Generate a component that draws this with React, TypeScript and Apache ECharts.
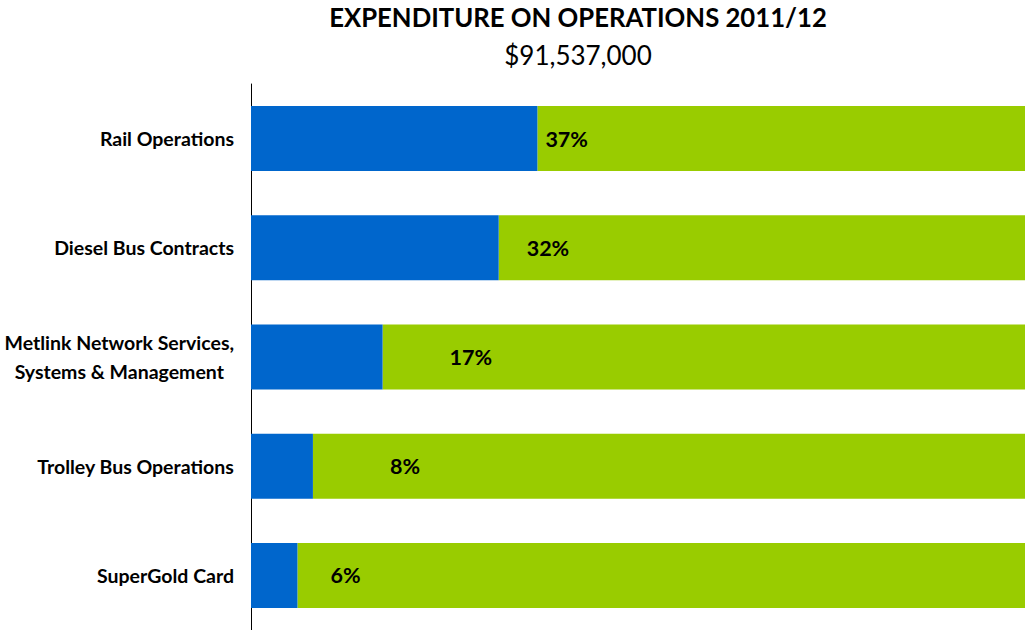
import React, { useEffect, useRef } from "react";
import * as echarts from "echarts";

const categories = [
  "Rail Operations",
  "Diesel Bus Contracts",
  "Metlink Network Services,\nSystems & Management",
  "Trolley Bus Operations",
  "SuperGold Card",
];
const shares = [37, 32, 17, 8, 6];
const remainder = shares.map((v) => 100 - v);
const labelNudge = [8, 28, 67, 77, 33];

const FONT = "Lato";

export default function App() {
  const ref = useRef<HTMLDivElement>(null);
  useEffect(() => {
    if (!ref.current) return;
    const chart = echarts.init(ref.current, null, { renderer: "svg" });
    chart.setOption({
      animation: false,
      backgroundColor: "#ffffff",
      title: {
        text: "EXPENDITURE ON OPERATIONS 2011/12",
        subtext: "$91,537,000",
        left: 573,
        textAlign: "center",
        top: -1,
        itemGap: 12,
        textStyle: { fontFamily: FONT, fontWeight: "bold", fontSize: 25.7, color: "#000" },
        subtextStyle: { fontFamily: FONT, fontSize: 26, color: "#000" },
      },
      grid: { left: 251, right: 0, top: 84, bottom: 0, containLabel: false },
      xAxis: { type: "value", min: 0, max: 100, show: false },
      yAxis: {
        type: "category",
        data: categories,
        inverse: true,
        axisLine: { show: true, lineStyle: { color: "#000", width: 1 } },
        axisTick: { show: false },
        splitLine: { show: false },
        axisLabel: {
          margin: 17,
          fontFamily: FONT,
          fontWeight: "bold",
          fontSize: 19.5,
          color: "#000",
          lineHeight: 29,
          formatter: (v: string) =>
            v
              .split("\n")
              .map((l) => `{c|${l}}`)
              .join("\n"),
          rich: {
            c: { align: "center", fontFamily: FONT, fontWeight: "bold", fontSize: 19.5, color: "#000", lineHeight: 29 },
          },
        },
      },
      series: [
        {
          type: "bar",
          stack: "a",
          barWidth: 65,
          itemStyle: { color: "#0066CC" },
          data: shares.map((v, i) => ({
            value: v,
            label: {
              show: true,
              position: "right",
              distance: 0,
              offset: [labelNudge[i], 0],
              formatter: "{c}%",
              fontFamily: FONT,
              fontWeight: "bold",
              fontSize: 21.5,
              color: "#000",
            },
          })),
          z: 3,
        },
        {
          type: "bar",
          stack: "a",
          barWidth: 65,
          itemStyle: { color: "#99CC00" },
          data: remainder,
          z: 2,
        },
      ],
    });
    return () => chart.dispose();
  }, []);
  return (
    <div
      ref={ref}
      style={{ position: "fixed", left: 0, top: 0, width: 1025, height: 630 }}
    />
  );
}
